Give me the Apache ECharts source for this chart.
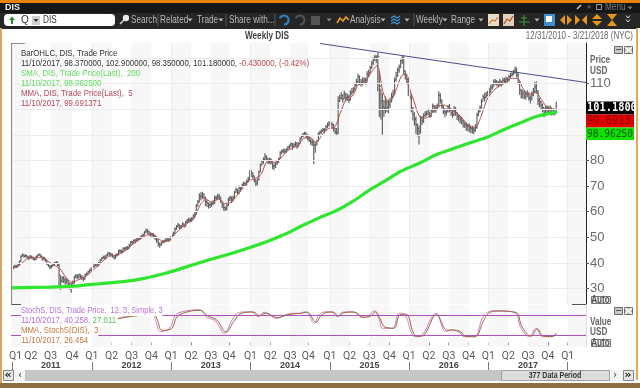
<!DOCTYPE html>
<html><head><meta charset="utf-8">
<style>html,body{margin:0;padding:0;background:#fff}#c{width:640px;height:388px}</style>
<script src="https://cdn.jsdelivr.net/npm/echarts@6/dist/echarts.min.js"></script>
</head><body><div id="c"></div>
<script>
// Weekly closes, one row per calendar year (2011..2017)
const closes = [
37.9,38.4,38.8,38.6,39.3,40.6,42.6,43.2,42.6,42.9,42.3,41.9,42.6,42.2,41.7,41.4,42.5,43.0,43.3,42.6,41.6,41.9,41.1,39.6,39.0,38.4,38.8,39.6,39.9,40.2,39.2,35.2,33.0,34.0,33.4,32.6,33.2,31.8,31.0,31.6,32.6,34.4,35.0,34.6,35.4,34.8,34.2,33.8,35.4,35.8,36.6,37.2,37.6,
38.6,39.0,39.4,39.0,40.0,41.2,41.8,42.4,42.0,43.0,43.8,43.6,43.2,42.9,42.2,42.9,43.2,44.8,44.6,44.4,45.6,45.6,46.0,45.8,47.0,48.2,48.0,48.8,48.6,49.2,49.6,49.8,50.4,51.0,52.0,52.6,52.2,51.4,51.2,51.0,50.6,49.8,49.0,47.6,47.2,47.8,48.4,48.6,48.8,49.2,49.0,49.8,
50.8,51.6,53.2,54.2,54.8,54.0,54.4,55.2,54.4,55.8,56.6,56.8,56.8,57.2,58.4,59.2,62.2,63.8,65.8,66.0,66.8,65.6,63.8,63.4,62.6,62.8,63.0,63.6,65.4,65.4,66.0,65.6,64.0,63.0,61.6,61.0,62.4,64.6,65.4,64.6,65.2,67.6,68.6,67.4,69.4,69.0,70.4,71.0,70.8,71.8,72.6,75.0,
75.0,74.0,72.4,71.2,72.4,75.4,78.2,79.6,80.4,81.4,80.6,79.6,80.2,79.6,77.8,78.0,78.8,79.2,80.6,83.0,83.6,83.8,83.4,84.2,85.0,85.6,86.4,85.4,86.2,86.6,85.8,86.4,88.4,89.4,90.2,90.6,89.4,88.8,88.0,87.2,87.0,86.0,86.2,87.4,90.4,91.0,91.6,92.0,91.8,93.2,94.0,94.6,
94.2,93.8,92.6,91.0,90.8,103.2,104.2,105.4,104.0,106.0,104.4,104.8,103.6,106.4,106.8,107.8,109.4,110.6,112.6,110.0,110.4,110.8,111.4,110.4,113.6,114.2,116.0,118.0,119.2,120.4,119.8,120.6,109.0,103.0,101.0,100.4,102.6,100.6,101.8,103.0,104.8,106.2,111.4,113.0,115.2,116.6,118.8,120.2,114.8,113.2,111.6,107.0,
104.6,100.4,98.0,96.0,94.0,92.4,91.4,96.6,95.4,97.6,98.4,98.2,99.6,97.4,99.2,101.4,99.8,100.6,101.4,105.4,103.6,101.0,99.2,98.8,99.2,101.0,100.2,98.4,97.8,99.4,98.6,97.4,96.8,96.0,95.4,94.6,94.0,93.6,93.4,92.8,92.4,92.2,91.6,93.0,97.8,99.0,100.6,103.0,104.8,104.6,105.6,106.2,
106.8,108.4,108.8,110.6,110.6,110.2,109.8,110.6,110.2,111.2,111.0,111.6,111.4,112.6,113.2,113.6,114.4,115.2,113.4,110.4,107.2,105.8,106.4,104.8,105.8,106.2,104.4,103.8,105.6,106.8,108.6,107.0,103.4,102.8,101.6,100.6,98.8,100.0,100.6,99.8,100.4,98.6,99.4,98.4,101.18];
const highs = [
38.5,38.9,39.3,39.2,39.8,41.0,43.0,43.7,43.4,43.4,43.0,42.6,43.0,42.9,42.4,42.0,42.9,43.4,43.8,43.4,42.5,42.4,41.9,41.2,39.8,39.2,39.3,40.0,40.4,40.7,40.6,39.6,35.0,34.8,34.8,34.3,34.0,33.4,32.4,32.4,33.2,35.0,35.7,35.6,35.9,35.6,35.2,34.7,35.8,36.3,37.0,37.6,38.3,
39.3,39.6,39.9,40.0,40.5,41.6,42.2,42.8,43.0,43.4,44.2,44.3,44.0,43.7,43.0,43.4,43.9,45.2,45.3,45.2,46.1,46.2,46.5,46.6,47.5,48.6,48.7,49.2,49.4,49.7,50.1,50.4,50.9,51.5,52.4,53.4,53.3,52.6,52.0,51.8,51.6,50.8,50.0,49.4,48.0,48.4,49.0,49.2,49.6,49.8,50.0,50.4,
51.4,52.2,53.8,54.8,55.6,55.0,54.9,55.9,55.4,56.4,57.2,57.6,57.6,57.9,59.0,60.0,63.0,64.6,67.2,67.6,67.8,67.2,65.8,64.6,63.6,63.6,64.0,64.6,66.2,66.2,67.0,66.8,65.8,64.0,63.0,62.0,63.0,65.4,66.2,66.0,66.2,68.0,69.4,69.0,70.2,70.0,71.0,71.8,71.6,72.6,73.6,76.2,
76.4,75.4,74.0,72.6,73.0,76.0,78.8,80.2,81.2,82.8,82.0,81.0,81.0,80.8,79.6,78.8,79.4,80.0,81.0,83.6,84.2,84.6,84.6,84.8,85.6,86.2,87.0,86.8,86.8,87.4,87.2,87.0,89.0,90.0,90.8,91.2,91.0,90.2,89.4,88.6,88.4,87.6,87.0,88.0,91.0,91.6,92.2,92.6,92.6,93.8,94.8,95.4,
95.2,95.0,94.2,92.6,92.6,105.0,105.6,106.6,105.8,107.2,106.4,106.0,105.6,107.4,108.2,108.6,110.4,111.8,113.8,113.2,111.8,112.4,112.4,112.2,114.8,115.4,116.8,118.8,120.2,121.2,121.0,122.0,115.0,108.0,106.2,103.6,105.0,103.4,103.8,104.4,106.4,107.6,112.4,114.6,116.2,117.4,119.4,121.0,120.6,115.0,113.8,112.4,
108.0,105.6,100.8,98.8,97.0,94.4,93.6,97.4,97.2,98.4,99.2,99.4,100.2,99.0,100.0,102.2,101.6,101.6,102.2,107.0,106.2,103.8,101.6,100.4,100.2,101.6,102.0,100.2,99.4,101.2,100.8,98.8,98.0,97.4,97.0,95.8,95.0,94.8,94.4,94.4,93.6,93.6,93.2,94.2,98.6,100.2,101.4,104.0,105.6,106.4,106.8,107.2,
108.2,109.4,110.2,111.6,111.8,111.4,111.0,111.8,111.2,112.2,112.2,112.6,112.4,113.4,114.2,114.6,115.4,116.6,116.2,114.2,110.8,108.0,107.6,107.2,106.8,107.4,106.6,105.4,106.8,108.2,110.6,110.8,107.4,104.4,103.2,102.2,100.6,101.2,101.4,101.2,101.4,100.6,100.4,100.2,102.9];
const lows = [
37.0,37.6,38.1,38.0,38.4,39.3,40.5,42.5,42.1,42.2,41.8,41.2,41.7,41.6,41.1,40.9,41.2,42.3,42.8,42.0,41.0,41.0,40.4,39.2,38.4,37.6,37.9,38.6,39.2,39.6,38.8,31.0,29.5,32.4,32.2,31.5,31.8,30.2,29.6,28.4,30.6,31.8,34.0,33.7,33.9,33.8,33.4,32.9,33.6,35.0,35.4,36.2,36.7,
37.8,38.2,38.7,38.4,38.8,40.0,41.0,41.6,41.2,41.8,42.9,42.8,42.5,42.1,41.4,41.6,42.5,42.9,43.9,43.6,44.2,44.9,45.2,45.0,45.6,46.9,47.2,47.7,47.7,48.4,48.8,49.0,49.5,50.1,50.8,51.8,51.4,50.6,50.3,50.2,49.6,48.9,47.8,46.4,45.9,46.6,47.6,47.9,48.2,48.5,48.2,48.8,
49.6,50.6,51.4,53.0,53.8,53.2,53.3,54.0,53.7,54.2,55.6,55.8,55.9,56.0,57.0,57.8,58.8,62.2,63.6,64.4,65.0,64.8,62.2,61.8,61.2,61.4,61.9,62.6,63.0,64.4,64.8,64.8,63.4,61.4,60.4,60.0,60.6,62.2,64.2,63.4,63.8,65.0,67.4,66.8,66.8,67.8,68.8,70.0,69.6,70.2,71.4,72.0,
73.4,73.0,71.4,70.0,70.2,72.4,75.4,78.2,78.6,79.8,79.6,78.6,78.6,78.4,76.6,76.2,77.0,78.2,79.0,80.6,82.4,82.8,82.6,83.0,84.0,84.6,85.4,84.2,85.0,85.6,84.6,85.2,86.4,88.4,89.0,89.6,88.6,87.8,87.2,86.0,85.6,78.6,83.0,85.8,87.6,90.0,90.4,91.0,90.6,91.6,92.6,93.2,
92.6,92.4,91.2,90.2,90.0,90.2,102.8,103.8,102.6,104.0,103.0,103.2,102.4,103.4,105.4,106.4,107.2,108.8,110.2,109.4,108.8,109.2,109.8,109.6,110.6,112.6,114.0,115.8,117.2,118.8,118.0,107.0,97.0,96.0,90.0,97.0,98.4,98.8,98.4,100.4,102.6,104.4,105.4,110.8,112.6,114.2,116.0,117.6,113.4,111.6,109.8,105.0,
103.6,98.8,95.6,93.6,90.4,89.4,86.2,90.4,93.8,94.6,96.8,97.2,97.6,96.6,96.8,98.8,98.6,98.6,99.6,100.6,102.2,100.2,98.0,96.8,97.6,98.6,98.8,97.4,96.6,97.4,97.4,95.8,95.2,94.4,94.0,92.8,92.6,91.6,91.4,91.0,90.6,90.4,90.2,91.2,92.4,97.2,98.8,100.2,103.4,103.0,104.2,105.0,
105.0,106.4,107.6,108.8,109.4,109.0,108.4,109.2,108.8,109.6,109.8,110.2,110.4,110.8,112.2,112.6,113.2,113.8,112.4,109.6,105.6,104.2,104.2,103.8,103.8,104.6,103.4,102.2,103.4,105.0,106.2,106.0,101.6,100.8,100.0,98.8,96.8,97.8,98.2,98.6,98.2,97.4,97.6,97.6,98.35];
const lastOpen = 98.37;

// Moderated moving average, read every few weeks
const mmaWeeks = [0,4,8,12,16,20,24,28,32,36,40,44,48,52,56,60,64,68,72,76,80,84,88,92,96,100,104,108,112,116,120,124,128,132,136,140,144,148,152,156,160,164,168,172,176,180,184,188,192,196,200,204,208,212,216,220,224,228,232,236,240,244,248,252,256,258,260,264,268,272,276,280,284,288,292,296,300,304,308,312,316,320,324,328,332,336,340,344,348,352,357];
const mmaValues = [38.0,38.4,40.4,42.0,42.0,42.2,40.8,39.2,37.8,34.4,32.4,33.4,34.4,36.2,38.4,40.6,42.6,43.0,43.8,45.2,47.4,49.0,50.6,51.4,50.0,48.2,49.0,51.6,54.0,55.6,57.4,62.6,64.8,63.6,65.0,63.2,63.6,66.2,69.4,72.0,73.0,74.6,79.4,79.2,80.4,83.0,84.8,85.8,88.6,89.0,87.0,90.0,92.4,92.8,98.6,104.2,105.2,109.8,110.4,114.2,117.0,106.5,102.5,106.8,113.0,113.5,110.0,103.5,97.0,96.5,98.4,101.0,101.6,100.0,98.6,96.4,93.6,92.6,96.8,103.6,107.0,109.0,110.2,112.0,112.0,107.8,105.8,106.6,103.5,100.4,99.69];

// 200-week simple moving average
const smaWeeks = [0,25,42,58,80,102,124,146,168,181,190,202,214,224,235,247,255,268,279,290,301,312,323,334,345,358];
const smaValues = [30.3,30.6,31.0,31.9,33.2,36.1,40.2,44.0,48.4,51.6,54.3,57.6,60.6,64.0,68.4,72.6,75.6,79.0,82.3,84.6,86.9,89.0,92.0,94.7,97.2,98.96];

// Trend line through the two peaks
const trendWeeks = [202.6,377];
const trendValues = [125.6,110.4];

// Stochastic panel
const stochWeeks = [70,75,84,93,95,98,104,108,115,123.5,128,134,140,145,150,158,162,166,174,179.5,185,189,193,199,202,206.5,210,214,217.4,224,230.5,234,238,241.5,243.6,250,254.6,258,263.3,266.6,270,278.7,285,288.5,294,297.2,303.8,309,312.5,317,330,334.4,340,344.2,348.6,354,357.5];
const stochValues = [71.6,76.4,81.5,81.5,61.6,32,42,81.5,93.4,97,76.4,63.7,27,66.6,89.5,91,76.4,89.5,71.6,81.5,86.5,86.5,91,56.9,81.5,91,91,76.4,89.5,91,73.5,76.4,94,66.6,42,42,86.5,83.5,22,17,24,86.5,32,37,30,17,17,71.6,89.5,94,89.5,42,17,42,17,17,27.011];
const stochMmaWeeks = [70,76,85,94,96,99,105,109,116,124,129,135,141,146,151,159,163,167,175,180,186,190,194,200,203,207,211,215,218,225,231,235,239,242,245,251,255,259,264,267,271,279,286,289,295,298,304,310,313,318,331,335,341,345,349,355,357.5];
const stochMmaValues = [70,75,80,81,66,36,40,76,91,95,79,66,31,62,86,90,79,87,73,80,85,86,90,60,78,89,90,78,88,90,75,76,91,70,46,42,82,84,27,18,23,82,36,37,31,18,17,66,86,93,89,47,19,40,19,17,26.454];
const stochLevels = [80,20];

// Axis text and positions on the 377-period axis
const quarterWeeks = [3,13,26,40,53,66,79,92,105,118,131,143,157,170,183,195,209,222,235,248,261,274,287,300,313,326,339,352,365];
const quarterLabels = ['Q1','Q2','Q3','Q4','Q1','Q2','Q3','Q4','Q1','Q2','Q3','Q4','Q1','Q2','Q3','Q4','Q1','Q2','Q3','Q4','Q1','Q2','Q3','Q4','Q1','Q2','Q3','Q4','Q1'];
const yearWeeks = [1,53,105,157,209,261,313,365];
const yearLabelWeeks = [26,79,131,183,235,287,339];
const yearLabels = ['2011','2012','2013','2014','2015','2016','2017'];
const priceTicks = [30,40,50,60,70,80,110];
const gridLevels = [30,40,50,60,70,80,90,100,110,120];
const shadedStarts = [0,26,53,79,105,131,157,183,209,235,261,287,313,339,365];
const shadedEnds = [13,40,66,92,118,143,170,195,222,248,274,300,326,352,377];

const opens = closes.map((c,i)=> i===closes.length-1 ? lastOpen : (i===0 ? c : closes[i-1]));
const barRows = closes.map((c,i)=>[i+0.5,opens[i],c,lows[i],highs[i]]);
const pairs = (xs,ys)=>xs.map((x,i)=>[x,ys[i]]);
const bands = shadedStarts.map((s,i)=>[{xAxis:s},{xAxis:shadedEnds[i]}]);

const SANS='"Liberation Sans"';
const SX=0.82;

const G=[];
const rect=(x,y,w,h,fill,z,extra)=>G.push({type:'rect',silent:true,z:z||60,shape:Object.assign({x,y,width:w,height:h},extra||{}),style:{fill}});
const box=(x,y,w,h,fill,stroke,z)=>G.push({type:'rect',silent:true,z:z||61,shape:{x:x+.5,y:y+.5,width:w,height:h},style:{fill,stroke,lineWidth:1}});
const txt=(x,y,text,font,fill,align,z,bg,sx)=>G.push({type:'text',silent:true,z:z||70,x,y,scaleX:sx||1,style:Object.assign({text,font,fill,align:align||'left',verticalAlign:'middle'},bg?{backgroundColor:bg,padding:[1,0,1,0]}:{})});
const ntxt=(x,y,text,font,fill,align,z,bg)=>txt(x,y,text,font,fill,align,z,bg,SX);
const poly=(pts,stroke,w,z)=>G.push({type:'polyline',silent:true,z:z||66,shape:{points:pts},style:{stroke,lineWidth:w||1,fill:null}});
const tri=(x,y,fill)=>G.push({type:'polygon',silent:true,z:66,shape:{points:[[x-2.5,y-1.5],[x+2.5,y-1.5],[x,y+1.5]]},style:{fill}});

// window chrome
rect(0,0,640,3,'#e8820f');
rect(0,3,640,10,'#171717');
rect(0,13,640,16,'#262626');
rect(0,28,2,356,'#d9a560');
rect(636,28,2,356,'#e3a75c');
rect(638,28,2,356,'#ffffff');
rect(2,380,636,3,'#ffffff');
rect(0,383,640,5,'#8e6f41');
txt(5,7.5,'DIS','bold 9px '+SANS,'#f0f0f0');
// symbol box
rect(4,14,111,12,'#ffffff',61,{r:4});
poly([[12,24],[12,19]],'#2e8b2e',2);
G.push({type:'polygon',silent:true,z:66,shape:{points:[[9,20],[15,20],[12,16.5]]},style:{fill:'#2e8b2e'}});
txt(21,20,'Q','10px '+SANS,'#333');
rect(32,16,8,9,'#d0d0d0',62);
tri(36,20.5,'#333');
ntxt(43,20,'DIS','10px '+SANS,'#333');
// toolbar
G.push({type:'circle',silent:true,z:66,shape:{cx:126,cy:18,r:3.2},style:{fill:'#e8e8e8'}});
poly([[124,20],[120,24]],'#dddddd',1.5);
const T='10px '+SANS, TC='#b8b8b8';
ntxt(131,20,'Search',T,TC);
ntxt(160,20,'Related',T,TC); tri(190,20,TC);
ntxt(197,20,'Trade',T,TC); tri(221,20,TC);
ntxt(229,20,'Share with...',T,TC);
poly([[158,14],[158,26]],'#555',1); poly([[226,14],[226,26]],'#555',1); poly([[275,14],[275,26]],'#555',1);
G.push({type:'arc',silent:true,z:66,shape:{cx:284,cy:20,r:4.5,startAngle:-2.8,endAngle:1.6},style:{stroke:'#2f7fc1',lineWidth:2.2,fill:null}});
G.push({type:'arc',silent:true,z:66,shape:{cx:300,cy:20,r:4.5,startAngle:-2.8,endAngle:1.6},style:{stroke:'#555',lineWidth:2,fill:null}});
rect(311,16,9,9,'#555',62);
tri(329,20,'#888');
poly([[337,23],[340,18],[343,21],[346,17],[349,20]],'#f09a20',1.6);
ntxt(350,20,'Analysis',T,TC); tri(383,20,TC);
poly([[391,18],[394,16],[397,18],[400,16]],'#3f94d0',1.4);
poly([[391,21],[394,19],[397,21],[400,19]],'#3f94d0',1.4);
poly([[391,24],[394,22],[397,24],[400,22]],'#3f94d0',1.4);
tri(407,20,TC);
poly([[414,14],[414,26]],'#555',1);
ntxt(416,20,'Weekly',T,TC); tri(445,20,TC);
ntxt(451,20,'Range',T,TC); tri(481,20,TC);
rect(488,14,11,12,'#e6dcc8',62); poly([[489,24],[492,20],[495,21],[498,17]],'#d07820',1.2);
rect(503,14,11,12,'#e0d0b8',62); poly([[504,24],[507,19],[510,21],[513,16]],'#b05020',1.2);
poly([[524,15],[524,26]],'#3aa03a',1); poly([[519,22],[530,22]],'#3aa03a',1); poly([[521,18],[527,18]],'#3aa03a',1);
tri(537,20,TC);
rect(544,14,11,12,'#3f8fd0',62); rect(546,16,6,6,'#ffffff',63);
const O='#e8951e';
G.push({type:'polygon',silent:true,z:66,shape:{points:[[560,20],[565,15],[565,25]]},style:{fill:O}});
G.push({type:'polygon',silent:true,z:66,shape:{points:[[572,20],[567,15],[567,25]]},style:{fill:O}});
G.push({type:'polygon',silent:true,z:66,shape:{points:[[580,20],[575,15],[575,25]]},style:{fill:O}});
G.push({type:'polygon',silent:true,z:66,shape:{points:[[582,20],[587,15],[587,25]]},style:{fill:O}});
G.push({type:'polygon',silent:true,z:66,shape:{points:[[597,14],[592,19],[602,19]]},style:{fill:O}});
G.push({type:'polygon',silent:true,z:66,shape:{points:[[597,26],[592,21],[602,21]]},style:{fill:O}});
G.push({type:'polygon',silent:true,z:66,shape:{points:[[607,14],[617,14],[612,20]]},style:{fill:O}});
G.push({type:'polygon',silent:true,z:66,shape:{points:[[607,26],[617,26],[612,20]]},style:{fill:O}});
poly([[626,15.5],[628,18],[630,15.5]],'#ddd',1); poly([[626,19.5],[628,22],[630,19.5]],'#ddd',1);
// title bar icons
poly([[577,9],[581,5]],'#ccc',1.4);
txt(586,7.5,'★','7px "DejaVu Sans"','#555');
box(596,4,5,5,null,'#999');
ntxt(605,7.5,'Menu','10px '+SANS,'#777'); tri(630,8,'#777');

// headings
ntxt(267,36,'Weekly DIS','bold 10px '+SANS,'#444','center');
txt(633,36,'12/31/2010 - 3/21/2018 (NYC)','10px '+SANS,'#666','right',70,null,0.8);

// price legend
const LB='9.6px '+SANS;
ntxt(21,53,'BarOHLC, DIS, Trade Price',LB,'#333');
G.push({type:'text',silent:true,z:70,x:21,y:63,scaleX:SX,style:{text:'11/10/2017, 98.370000, 102.900000, 98.350000, 101.180000, {r|-0.430000, (-0.42%)}',font:LB,fill:'#333',verticalAlign:'middle',rich:{r:{fill:'#b94a4a',font:LB}}}});
ntxt(21,73,'SMA, DIS, Trade Price(Last),  200',LB,'#5fdc5f');
ntxt(21,83,'11/10/2017, 98.962500',LB,'#5fdc5f');
ntxt(21,93,'MMA, DIS, Trade Price(Last),  5',LB,'#b5475a');
ntxt(21,103,'11/10/2017, 99.691371',LB,'#b5475a');

// stochastic legend (opaque, masks the lines behind it)
txt(21,310,'StochS, DIS, Trade Price,  12, 3, Simple, 3',LB,'#b46fd6','left',70,'#fff',0.78);
G.push({type:'text',silent:true,z:70,x:21,y:320,scaleX:SX,style:{text:'11/10/2017, 40.258, {g|27.011}',font:LB,fill:'#b46fd6',verticalAlign:'middle',backgroundColor:'#fff',padding:[1,0,1,0],rich:{g:{fill:'#5fbf5f',font:LB}}}});
ntxt(21,330,'MMA, StochS(DIS),  3',LB,'#c4773f','left',70,'#fff');
ntxt(21,340,'11/10/2017, 26.454',LB,'#c4773f','left',70,'#fff');

// panel corners
poly([[11.5,43.5],[25,43.5]],'#888',1,55);
poly([[11.5,304.5],[25,304.5]],'#555',1,55);
poly([[572,304.5],[586,304.5]],'#555',1,55);
poly([[11.5,43],[11.5,305]],'#8a8a8a',1,55);

// axis captions
ntxt(590,60,'Price','bold 10px '+SANS,'#666');
ntxt(590,71,'USD','bold 10px '+SANS,'#666');
ntxt(590,322,'Value','bold 10px '+SANS,'#666');
ntxt(590,332,'USD','bold 10px '+SANS,'#666');
const auto=(y)=>{box(591,y,19,7,'#eee','#777');ntxt(600.5,y+4,'Auto','bold 10px '+SANS,'#555','center',72);};
auto(296); auto(339);
const ctl=(y)=>{box(614,y,8,7,'#c9c9c9','#666');poly([[616,y+3.5],[621,y+3.5]],'#555',1,67);
  box(624,y,8,7,'#c9c9c9','#666');poly([[625,y+1],[632,y+7]],'#fff',1.3,67);poly([[632,y+1],[625,y+7]],'#fff',1.3,67);};
ctl(46); ctl(307);

// last value tags
rect(586,101.5,48,13,'#000000',62);
rect(586,114.5,48,13,'#e30000',62);
rect(586,127.5,48,12.5,'#14e000',62);
const MONO='"DejaVu Sans Mono"';
txt(587,108,'101.1800','bold 11.5px '+MONO,'#ffffff','left',70,null,0.9);
txt(587,121,'99.69137','11.5px '+MONO,'#8c0000','left',70,null,0.9);
txt(587,134,'98.96250','11px '+MONO,'#055a05','left',70,null,0.87);
rect(634,100,2,42,'#ffffff',71);

// bottom scroller
rect(3,370,633,11,'#c6c6c6',60);
box(3,370,10,10,'#e6e6e6','#888');
txt(8,375,'«','bold 11px "DejaVu Sans"','#222','center',72);
rect(14,370,11,11,'#f4f4f4',61);
txt(20,375,'‹','10px "DejaVu Sans"','#333','center',72);
box(501,370,108,10,'#dcdcdc','#a0a0a0');
txt(555,375.5,'377 Data Period','bold 9px '+SANS,'#333','center',72,null,0.78);
rect(610,370,26,11,'#f4f4f4',61);
txt(615,375,'›','10px "DejaVu Sans"','#333','center',72);
box(623,370,10,10,'#e6e6e6','#888');
txt(628,375,'»','bold 11px "DejaVu Sans"','#222','center',72);

const option={
  animation:false,
  backgroundColor:'#ffffff',
  grid:[{left:11,right:54,top:43,height:261},{left:11,right:54,top:305,height:42}],
  graphic:{elements:G},
  xAxis:[
    {gridIndex:0,type:'value',min:0,max:377,show:false},
    {gridIndex:1,type:'value',min:0,max:377,position:'bottom',splitLine:{show:false},axisLine:{show:false},
     axisTick:{show:true,length:3,lineStyle:{color:'#888'},customValues:quarterWeeks},
     axisLabel:{show:true,margin:4,fontSize:10.5,fontFamily:'Roboto',color:'#5a5a5a',hideOverlap:false,showMinLabel:true,showMaxLabel:true,customValues:quarterWeeks,
       formatter:v=>quarterLabels[quarterWeeks.indexOf(v)]||''}},
    {gridIndex:1,type:'value',min:0,max:377,position:'bottom',offset:14,splitLine:{show:false},axisLine:{show:false},axisTick:{show:false},
     axisLabel:{show:true,margin:0,fontSize:9,fontWeight:'bold',fontFamily:'Liberation Sans',color:'#444',customValues:yearLabelWeeks,
       formatter:v=>yearLabels[yearLabelWeeks.indexOf(v)]||''}},
    {gridIndex:1,type:'value',min:0,max:377,position:'bottom',offset:15,splitLine:{show:false},axisLine:{show:false},
     axisTick:{show:true,length:8,lineStyle:{color:'#777'},customValues:yearWeeks},axisLabel:{show:false}}
  ],
  yAxis:[
    {gridIndex:0,type:'value',position:'right',min:24,max:125.8,splitLine:{show:false},
     axisLine:{show:true,onZero:false,lineStyle:{color:'#222'}},
     axisTick:{show:true,length:3,lineStyle:{color:'#555'},customValues:priceTicks},
     axisLabel:{show:true,margin:4,fontSize:13,fontFamily:'Liberation Sans',color:'#6a6a6a',customValues:priceTicks}},
    {gridIndex:1,type:'value',position:'right',min:-13.5,max:111,show:true,splitLine:{show:false},
     axisLine:{show:true,onZero:false,lineStyle:{color:'#ddd'}},axisTick:{show:false},axisLabel:{show:false}}
  ],
  series:[
    {type:'line',xAxisIndex:0,yAxisIndex:0,data:[],silent:true,z:1,
     markArea:{silent:true,itemStyle:{color:'#f7f7f7'},data:bands},
     markLine:{silent:true,symbol:'none',label:{show:false},animation:false,
       data:gridLevels.map(v=>({yAxis:v})).concat(yearWeeks.map(v=>({xAxis:v}))),
       lineStyle:{color:'#ececec',width:1,type:'solid'}}},
    {type:'line',xAxisIndex:1,yAxisIndex:1,data:[],silent:true,z:1,
     markArea:{silent:true,itemStyle:{color:'#f7f7f7'},data:bands},
     markLine:{silent:true,symbol:'none',label:{show:false},animation:false,
       data:stochLevels.map(v=>({yAxis:v})),lineStyle:{color:'#b050c0',width:1,type:'solid',opacity:1}}},
    {type:'custom',xAxisIndex:0,yAxisIndex:0,z:3,silent:true,data:barRows,encode:{x:0,y:[1,2,3,4]},
     renderItem:(params,api)=>{
       const x=api.value(0);
       const hi=api.coord([x,api.value(4)]),lo=api.coord([x,api.value(3)]),
             o=api.coord([x,api.value(1)]),c=api.coord([x,api.value(2)]);
       const st={stroke:'#636363',lineWidth:1.2};
       return {type:'group',children:[
         {type:'line',shape:{x1:hi[0],y1:hi[1],x2:lo[0],y2:lo[1]},style:st},
         {type:'line',shape:{x1:o[0]-1,y1:o[1],x2:o[0],y2:o[1]},style:st},
         {type:'line',shape:{x1:c[0],y1:c[1],x2:c[0]+1,y2:c[1]},style:st}
       ]};
     }},
    {type:'line',name:'MMA',xAxisIndex:0,yAxisIndex:0,z:4,silent:true,showSymbol:false,smooth:0.3,data:pairs(mmaWeeks,mmaValues),lineStyle:{color:'#b4504e',width:1}},
    {type:'line',name:'SMA',xAxisIndex:0,yAxisIndex:0,z:5,silent:true,showSymbol:false,smooth:0.3,data:pairs(smaWeeks,smaValues),lineStyle:{color:'#2fe52f',width:3.2}},
    {type:'line',name:'Trend',xAxisIndex:0,yAxisIndex:0,z:6,silent:true,showSymbol:false,data:pairs(trendWeeks,trendValues),lineStyle:{color:'#4d4d8c',width:1}},
    {type:'line',name:'StochS',xAxisIndex:1,yAxisIndex:1,z:4,silent:true,showSymbol:false,smooth:0.4,data:pairs(stochWeeks,stochValues),lineStyle:{color:'#d07fd0',width:1}},
    {type:'line',name:'StochMMA',xAxisIndex:1,yAxisIndex:1,z:5,silent:true,showSymbol:false,smooth:0.4,data:pairs(stochMmaWeeks,stochMmaValues),lineStyle:{color:'#9a6a3c',width:1}}
  ]
};
echarts.init(document.getElementById('c'),null,{renderer:'canvas'}).setOption(option);
</script></body></html>
